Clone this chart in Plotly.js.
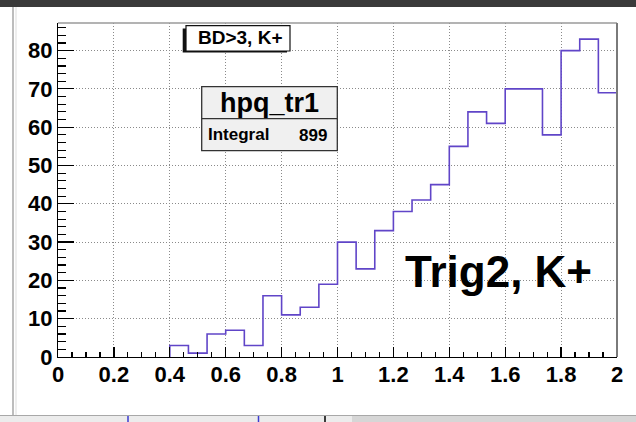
<!DOCTYPE html>
<html>
<head>
<meta charset="utf-8">
<script src="https://cdn.plot.ly/plotly-3.0.1.min.js"></script>
<style>
html,body{margin:0;padding:0;background:#fff;}
#chart{width:636px;height:422px;}
</style>
</head>
<body>
<div id="chart"></div>
<script>
// ---- data ----
const binCounts = [0,0,0,0,0,0,3,1,6,7,3,16,11,13,19,30,23,33,38,41,45,55,64,61,70,70,58,80,83,69];
const histMin = 0;
const histMax = 2;
const xTickVals = [0,0.2,0.4,0.6,0.8,1,1.2,1.4,1.6,1.8,2];
const xTickLabels = ["0","0.2","0.4","0.6","0.8","1","1.2","1.4","1.6","1.8","2"];
const yTickVals = [0,10,20,30,40,50,60,70,80];
const yTickLabels = ["0","10","20","30","40","50","60","70","80"];
const histTitle = "hpq_tr1";
const statLabel = "Integral";
const statValue = "899";
const cutLabel = "BD>3, K+";
const trigLabel = "Trig2, K+";

// ---- build step line from bin edges (skip leading empty bins) ----
const nBins = binCounts.length;
const binW = (histMax - histMin) / nBins;
let first = 0;
while (first < nBins && binCounts[first] === 0) first++;
const xs = [histMin + first * binW], ys = [0];
for (let i = first; i <= nBins; i++) {
  xs.push(histMin + i * binW);
  ys.push(binCounts[Math.min(i, nBins - 1)]);
}

// ---- layout geometry ----
const W = 636, H = 422;
const mL = 58, mR = 19, mT = 23, mB = 65;
const pw = W - mL - mR, ph = H - mT - mB;
const px = X => (X - mL) / pw;
const py = Y => (H - mB - Y) / ph;

const font = 'Liberation Sans, Arial, Helvetica, sans-serif';

function rect(x0, y0, x1, y1, fill, lc, lw) {
  return {type:'rect', xref:'paper', yref:'paper', x0:px(x0), x1:px(x1), y0:py(y1), y1:py(y0),
    fillcolor:fill, line:{color:lc||fill, width:(lw===undefined?0:lw)}, layer:'above'};
}
function line(x0, y0, x1, y1, color, width) {
  return {type:'line', xref:'paper', yref:'paper', x0:px(x0), x1:px(x1), y0:py(y0), y1:py(y1),
    line:{color:color, width:width}, layer:'above'};
}

const shapes = [
  // window chrome
  rect(0, 0, 636, 7, '#3a3a3a'),
  rect(12, 7, 14, 415, '#bdbdbd'),
  rect(15.5, 7, 16.5, 415, '#dedede'),
  rect(0, 415, 636, 416, '#a8a8a8'),
  rect(0, 416, 352, 422, '#ececec'),
  rect(352, 416, 636, 422, '#d6d6d6'),
  line(128, 416, 128, 422, '#3b3bd0', 1.5),
  line(258.5, 416, 258.5, 422, '#3b3bd0', 1.5),
  line(325, 416, 325, 422, '#000', 1.5),
  // frame top/right
  line(58, 23, 617, 23, '#9a9a9a', 1.5),
  line(617, 23, 617, 357, '#7a7a7a', 2),
  // BD box with shadow
  rect(182.7, 28.5, 287, 52.5, '#111'),
  rect(186, 25.7, 290, 51, '#ffffff', '#111', 1.2),
  // stats box
  rect(201.7, 86.7, 337.3, 150.7, '#f0f0f0', '#333', 1.3),
  line(201.7, 118.7, 337.3, 118.7, '#333', 1.3)
];

const annotations = [
  {text: cutLabel, x: px(240), y: py(37.5), xanchor:'center', yanchor:'middle', font:{family:font, size:19, weight:'bold', color:'#000'}},
  {text: histTitle, x: px(269.5), y: py(103), xanchor:'center', yanchor:'middle', font:{family:font, size:27, weight:'bold', color:'#000'}},
  {text: statLabel, x: px(207), y: py(134.5), xanchor:'left', yanchor:'middle', font:{family:font, size:17, weight:'bold', color:'#000'}},
  {text: statValue, x: px(328), y: py(135), xanchor:'right', yanchor:'middle', font:{family:font, size:17, weight:'bold', color:'#000'}},
  {text: trigLabel, x: px(498.7), y: py(271), xanchor:'center', yanchor:'middle', font:{family:font, size:44, weight:'bold', color:'#000'}}
].map(a => Object.assign({xref:'paper', yref:'paper', showarrow:false, borderpad:0}, a));

const trace = {
  type:'scatter', mode:'lines', x: xs, y: ys,
  line:{shape:'hv', color:'#6045c8', width:1.6},
  hoverinfo:'skip'
};

const tickFont = {family:font, size:22, weight:'bold', color:'#000'};

const layout = {
  width: W, height: H,
  margin:{l:mL, r:mR, t:mT, b:mB, pad:0},
  paper_bgcolor:'#ffffff', plot_bgcolor:'#ffffff',
  showlegend:false,
  xaxis:{
    range:[histMin, histMax], tickmode:'array', tickvals:xTickVals, ticktext:xTickLabels,
    ticks:'inside', ticklen:10, tickwidth:1.2, tickcolor:'#000',
    minor:{dtick:0.05, tick0:0, ticks:'inside', ticklen:5, tickwidth:1.2, tickcolor:'#000', showgrid:false},
    showgrid:true, gridcolor:'#8a8a8a', griddash:'1px,2px', gridwidth:1,
    zeroline:false, showline:true, linecolor:'#000', linewidth:1.2,
    tickfont:tickFont, ticklabelstandoff:-3, fixedrange:true
  },
  yaxis:{
    range:[0, 87.2], tickmode:'array', tickvals:yTickVals, ticktext:yTickLabels,
    ticks:'inside', ticklen:16, tickwidth:1.2, tickcolor:'#000',
    minor:{dtick:2, tick0:0, ticks:'inside', ticklen:8, tickwidth:1.2, tickcolor:'#000', showgrid:false},
    showgrid:true, gridcolor:'#8a8a8a', griddash:'1px,2px', gridwidth:1,
    zeroline:false, showline:true, linecolor:'#000', linewidth:1.2,
    tickfont:tickFont, fixedrange:true
  },
  shapes: shapes,
  annotations: annotations
};

Plotly.newPlot('chart', [trace], layout, {displayModeBar:false, staticPlot:true});
</script>
</body>
</html>
